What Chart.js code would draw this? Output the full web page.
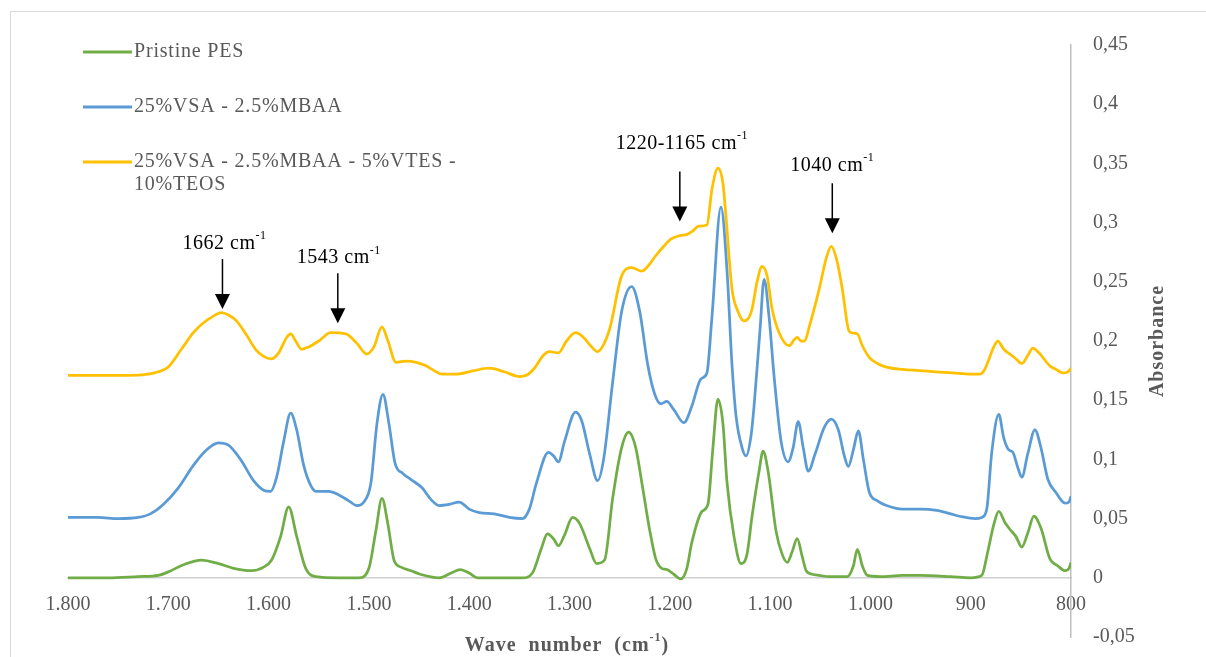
<!DOCTYPE html>
<html>
<head>
<meta charset="utf-8">
<script src="https://cdn.jsdelivr.net/npm/chart.js@4.4.1/dist/chart.umd.min.js"></script>
<style>
  html, body { margin: 0; padding: 0; background: #fff; }
  #wrap { position: relative; width: 1206px; height: 657px; }
</style>
</head>
<body>
<div id="wrap"><canvas id="chart" width="1206" height="657"></canvas></div>
<script>
// series names, as in the legend (third one wraps on two lines)
const seriesNames = ['Pristine PES', '25%VSA - 2.5%MBAA', '25%VSA - 2.5%MBAA - 5%VTES - 10%TEOS'];
const legendLines = [['Pristine PES'], ['25%VSA - 2.5%MBAA'], ['25%VSA - 2.5%MBAA - 5%VTES -', '10%TEOS']];
const seriesColors = ['#70ad47', '#5b9bd5', '#ffc000'];

// Pristine PES
const pesWn = [1800, 1760, 1730, 1710, 1700, 1685, 1667, 1650, 1635, 1617, 1605, 1597, 1588, 1580, 1572, 1563, 1553, 1530, 1510, 1500,
  1493, 1487, 1481, 1475, 1468, 1458, 1449, 1430, 1418, 1409, 1400, 1392, 1347, 1337, 1328, 1322, 1316, 1311, 1305, 1297,
  1290, 1280, 1273, 1265, 1257, 1248, 1241, 1234, 1228, 1220, 1214, 1208, 1203, 1196, 1189, 1183, 1178, 1168, 1162, 1157,
  1152, 1147, 1143, 1136, 1129, 1123, 1118, 1111, 1107, 1102, 1094, 1088, 1083, 1078, 1073, 1068, 1064, 1058, 1051, 1040,
  1023, 1017, 1013, 1008, 1003, 990, 968, 950, 920, 900, 889, 883, 877, 872, 866, 861, 855, 849, 843, 837,
  830, 821, 813, 806, 802, 800];
const pesAbs = [0.0, 0.0, 0.001, 0.002, 0.005, 0.011, 0.015, 0.012, 0.008, 0.006, 0.009, 0.015, 0.035, 0.060, 0.035, 0.008, 0.001, 0.0, 0.0, 0.008,
  0.040, 0.067, 0.045, 0.015, 0.009, 0.006, 0.003, 0.0, 0.004, 0.007, 0.004, 0.0, 0.0, 0.004, 0.025, 0.037, 0.033, 0.027, 0.036, 0.051,
  0.046, 0.025, 0.012, 0.015, 0.067, 0.110, 0.123, 0.110, 0.081, 0.040, 0.016, 0.008, 0.007, 0.003, -0.001, 0.008, 0.030, 0.056, 0.062, 0.110,
  0.151, 0.130, 0.081, 0.035, 0.012, 0.020, 0.052, 0.090, 0.107, 0.090, 0.039, 0.020, 0.013, 0.022, 0.033, 0.018, 0.006, 0.003, 0.002, 0.001,
  0.001, 0.010, 0.024, 0.010, 0.002, 0.001, 0.002, 0.002, 0.001, 0.0, 0.002, 0.022, 0.045, 0.056, 0.047, 0.041, 0.035, 0.026, 0.038, 0.052,
  0.042, 0.016, 0.010, 0.006, 0.008, 0.013];

// 25%VSA - 2.5%MBAA
const vsaWn = [1800, 1770, 1750, 1730, 1718, 1705, 1690, 1675, 1662, 1650, 1640, 1628, 1615, 1605, 1598, 1592, 1585, 1578, 1572, 1565,
  1558, 1553, 1540, 1530, 1520, 1512, 1505, 1498, 1492, 1486, 1480, 1474, 1466, 1458, 1447, 1438, 1430, 1420, 1410, 1400,
  1390, 1375, 1360, 1347, 1340, 1333, 1321, 1316, 1311, 1305, 1294, 1288, 1280, 1272, 1266, 1257, 1248, 1238, 1230, 1222,
  1215, 1209, 1203, 1196, 1186, 1178, 1169, 1163, 1158, 1149, 1143, 1138, 1134, 1128, 1124, 1119, 1116, 1110, 1106, 1101,
  1096, 1089, 1082, 1077, 1072, 1067, 1062, 1055, 1046, 1039, 1032, 1026, 1022, 1017, 1012, 1007, 1001, 993, 984, 968,
  950, 934, 920, 911, 895, 889, 884, 879, 872, 867, 862, 858, 853, 849, 843, 836, 830, 823, 815, 806,
  802, 800];
const vsaAbs = [0.051, 0.051, 0.050, 0.051, 0.054, 0.062, 0.076, 0.095, 0.108, 0.114, 0.112, 0.100, 0.082, 0.074, 0.073, 0.085, 0.115, 0.139, 0.125, 0.095,
  0.078, 0.073, 0.073, 0.070, 0.065, 0.061, 0.064, 0.080, 0.130, 0.155, 0.130, 0.097, 0.088, 0.083, 0.076, 0.066, 0.061, 0.062, 0.064, 0.058,
  0.055, 0.054, 0.051, 0.050, 0.058, 0.080, 0.106, 0.103, 0.098, 0.115, 0.140, 0.133, 0.105, 0.082, 0.100, 0.165, 0.225, 0.246, 0.225, 0.180,
  0.155, 0.147, 0.149, 0.142, 0.131, 0.145, 0.168, 0.173, 0.220, 0.313, 0.260, 0.180, 0.137, 0.110, 0.103, 0.120, 0.145, 0.210, 0.252, 0.220,
  0.170, 0.115, 0.098, 0.110, 0.132, 0.110, 0.090, 0.105, 0.127, 0.134, 0.125, 0.103, 0.094, 0.108, 0.124, 0.100, 0.072, 0.065, 0.061, 0.058,
  0.058, 0.057, 0.054, 0.052, 0.050, 0.051, 0.058, 0.106, 0.138, 0.118, 0.108, 0.106, 0.093, 0.085, 0.105, 0.125, 0.110, 0.083, 0.072, 0.063,
  0.064, 0.069];

// 25%VSA - 2.5%MBAA - 5%VTES - 10%TEOS
const vtesWn = [1800, 1770, 1740, 1720, 1710, 1700, 1687, 1675, 1667, 1655, 1647, 1640, 1632, 1622, 1613, 1605, 1597, 1590, 1582, 1578,
  1573, 1567, 1560, 1550, 1538, 1523, 1512, 1502, 1495, 1487, 1481, 1473, 1463, 1453, 1443, 1435, 1427, 1413, 1395, 1380,
  1365, 1350, 1343, 1335, 1326, 1320, 1311, 1303, 1294, 1286, 1279, 1272, 1266, 1260, 1248, 1238, 1228, 1221, 1214, 1206,
  1199, 1190, 1183, 1177, 1171, 1163, 1158, 1152, 1147, 1144, 1138, 1132, 1126, 1121, 1118, 1113, 1108, 1103, 1098, 1091,
  1081, 1076, 1073, 1069, 1066, 1060, 1051, 1044, 1039, 1034, 1028, 1022, 1019, 1013, 1008, 1001, 993, 984, 968, 951,
  935, 918, 900, 891, 886, 883, 877, 873, 867, 861, 855, 849, 843, 838, 832, 821, 815, 808, 803, 800];
const vtesAbs = [0.171, 0.171, 0.171, 0.172, 0.174, 0.178, 0.193, 0.207, 0.214, 0.221, 0.224, 0.222, 0.217, 0.205, 0.193, 0.187, 0.185, 0.190, 0.203, 0.206,
  0.200, 0.193, 0.195, 0.200, 0.207, 0.206, 0.198, 0.189, 0.195, 0.212, 0.200, 0.182, 0.183, 0.182, 0.179, 0.175, 0.172, 0.172, 0.175, 0.177,
  0.174, 0.170, 0.171, 0.177, 0.188, 0.191, 0.190, 0.200, 0.207, 0.203, 0.196, 0.191, 0.197, 0.210, 0.255, 0.262, 0.259, 0.264, 0.272, 0.280,
  0.286, 0.289, 0.290, 0.293, 0.297, 0.298, 0.328, 0.346, 0.333, 0.305, 0.244, 0.225, 0.217, 0.220, 0.227, 0.250, 0.263, 0.255, 0.227, 0.207,
  0.196, 0.201, 0.203, 0.200, 0.200, 0.215, 0.244, 0.270, 0.280, 0.270, 0.244, 0.210, 0.207, 0.206, 0.196, 0.186, 0.181, 0.178, 0.176, 0.175,
  0.174, 0.173, 0.172, 0.172, 0.176, 0.182, 0.195, 0.200, 0.193, 0.189, 0.185, 0.181, 0.188, 0.194, 0.190, 0.179, 0.176, 0.173, 0.174, 0.177];

// axis ticks
const xMin = 800, xMax = 1800, xStep = 100;
const yMin = -0.05, yMax = 0.45, yStep = 0.05;

// peak annotations (arrow x and tip, label centre) in wavenumber / absorbance
const annotText = ['1662', '1543', '1220-1165', '1040'];
const annotWn = [1646, 1531, 1190, 1038];
const annotTip = [0.227, 0.215, 0.301, 0.291];
const annotLabelWn = [1644, 1530, 1188, 1038];
const annotLabelAbs = [0.282, 0.270, 0.367, 0.348];

const serif = "'Liberation Serif', 'Times New Roman', serif";
const grey = '#595959';

function toPoints(wn, abs) {
  return wn.map((w, i) => ({ x: w, y: abs[i] }));
}

function fmtX(v) {
  return String(v).replace(/\B(?=(\d{3})+(?!\d))/g, '.');
}

function fmtY(v) {
  return String(Math.round(v * 100) / 100).replace('.', ',');
}

// text followed by a small raised part, e.g. cm^-1
function supText(ctx, parts, x, y, size, bold, align) {
  const big = (bold ? 'bold ' : '') + size + 'px ' + serif;
  const small = (bold ? 'bold ' : '') + Math.round(size * 0.62) + 'px ' + serif;
  let total = 0;
  parts.forEach(p => { ctx.font = p.sup ? small : big; total += ctx.measureText(p.t).width; });
  let cx = align === 'center' ? x - total / 2 : x;
  ctx.textAlign = 'left';
  ctx.textBaseline = 'middle';
  parts.forEach(p => {
    ctx.font = p.sup ? small : big;
    ctx.fillText(p.t, cx, p.sup ? y - size * 0.38 : y);
    cx += ctx.measureText(p.t).width;
  });
}

const decor = {
  id: 'decor',
  beforeDraw(chart) {
    const ctx = chart.ctx;
    ctx.save();
    ctx.fillStyle = '#fff';
    ctx.fillRect(0, 0, chart.width, chart.height);
    ctx.strokeStyle = '#d9d9d9';
    ctx.lineWidth = 1;
    ctx.strokeRect(10.5, 11.5, 1400, 900);
    ctx.restore();
  },
  afterDraw(chart) {
    const ctx = chart.ctx;
    const xs = chart.scales.x, ys = chart.scales.y;
    ctx.save();

    // legend
    const rowY = [52, 107, 162];
    ctx.letterSpacing = '0.8px';
    legendLines.forEach((lines, i) => {
      ctx.strokeStyle = seriesColors[i];
      ctx.lineWidth = 3;
      ctx.beginPath();
      ctx.moveTo(83, rowY[i]);
      ctx.lineTo(132, rowY[i]);
      ctx.stroke();
      ctx.fillStyle = grey;
      ctx.font = '20px ' + serif;
      ctx.textAlign = 'left';
      ctx.textBaseline = 'middle';
      lines.forEach((t, k) => ctx.fillText(t, 134, rowY[i] + k * 23));
    });

    // arrows and labels
    ctx.letterSpacing = '0.5px';
    ctx.fillStyle = '#000';
    ctx.strokeStyle = '#000';
    annotText.forEach((t, i) => {
      const ax = xs.getPixelForValue(annotWn[i]);
      const tip = ys.getPixelForValue(annotTip[i]);
      ctx.lineWidth = 1.5;
      ctx.beginPath();
      ctx.moveTo(ax, tip - 50);
      ctx.lineTo(ax, tip - 12);
      ctx.stroke();
      ctx.beginPath();
      ctx.moveTo(ax - 7.5, tip - 15);
      ctx.lineTo(ax + 7.5, tip - 15);
      ctx.lineTo(ax, tip);
      ctx.closePath();
      ctx.fill();
      supText(ctx, [{ t: t + ' cm' }, { t: '-1', sup: true }],
        xs.getPixelForValue(annotLabelWn[i]), ys.getPixelForValue(annotLabelAbs[i]), 20, false, 'center');
    });

    // axis titles
    ctx.letterSpacing = '1px';
    ctx.fillStyle = grey;
    supText(ctx, [{ t: 'Wave  number  (cm' }, { t: '-1', sup: true }, { t: ')' }],
      567, 646, 20, true, 'center');
    ctx.translate(1158, (chart.chartArea.top + chart.chartArea.bottom) / 2);
    ctx.rotate(-Math.PI / 2);
    ctx.font = 'bold 20px ' + serif;
    ctx.textAlign = 'center';
    ctx.textBaseline = 'middle';
    ctx.fillText('Absorbance', 0, 0);
    ctx.restore();
  }
};

const datasets = [
  toPoints(pesWn, pesAbs),
  toPoints(vsaWn, vsaAbs),
  toPoints(vtesWn, vtesAbs)
].map((pts, i) => ({
  label: seriesNames[i],
  data: pts,
  borderColor: seriesColors[i],
  backgroundColor: seriesColors[i],
  borderWidth: 2.75,
  pointRadius: 0,
  fill: false,
  cubicInterpolationMode: 'monotone'
}));

new Chart(document.getElementById('chart'), {
  type: 'line',
  data: { datasets: datasets },
  options: {
    responsive: false,
    animation: false,
    devicePixelRatio: 1,
    layout: { padding: { left: 68, top: 45, bottom: 20, right: 0 } },
    plugins: { legend: { display: false }, tooltip: { enabled: false } },
    scales: {
      x: {
        type: 'linear',
        reverse: true,
        min: xMin,
        max: xMax,
        position: { y: 0 },
        grid: { display: false },
        border: { display: true, color: '#d0d0d0', width: 1.5 },
        ticks: {
          stepSize: xStep,
          padding: 7,
          maxRotation: 0,
          autoSkip: false,
          color: grey,
          font: { family: serif, size: 20 },
          callback: v => fmtX(v)
        }
      },
      y: {
        position: 'right',
        min: yMin,
        max: yMax,
        grid: { display: false },
        border: { display: true, color: '#bfbfbf', width: 1.5 },
        ticks: {
          stepSize: yStep,
          padding: 14,
          color: grey,
          font: { family: serif, size: 20 },
          callback: v => fmtY(v)
        },
        afterFit: s => {
          s.width = 135;
          s.paddingTop = 0;
          s.paddingBottom = 0;
        }
      }
    }
  },
  plugins: [decor]
});
</script>
</body>
</html>
